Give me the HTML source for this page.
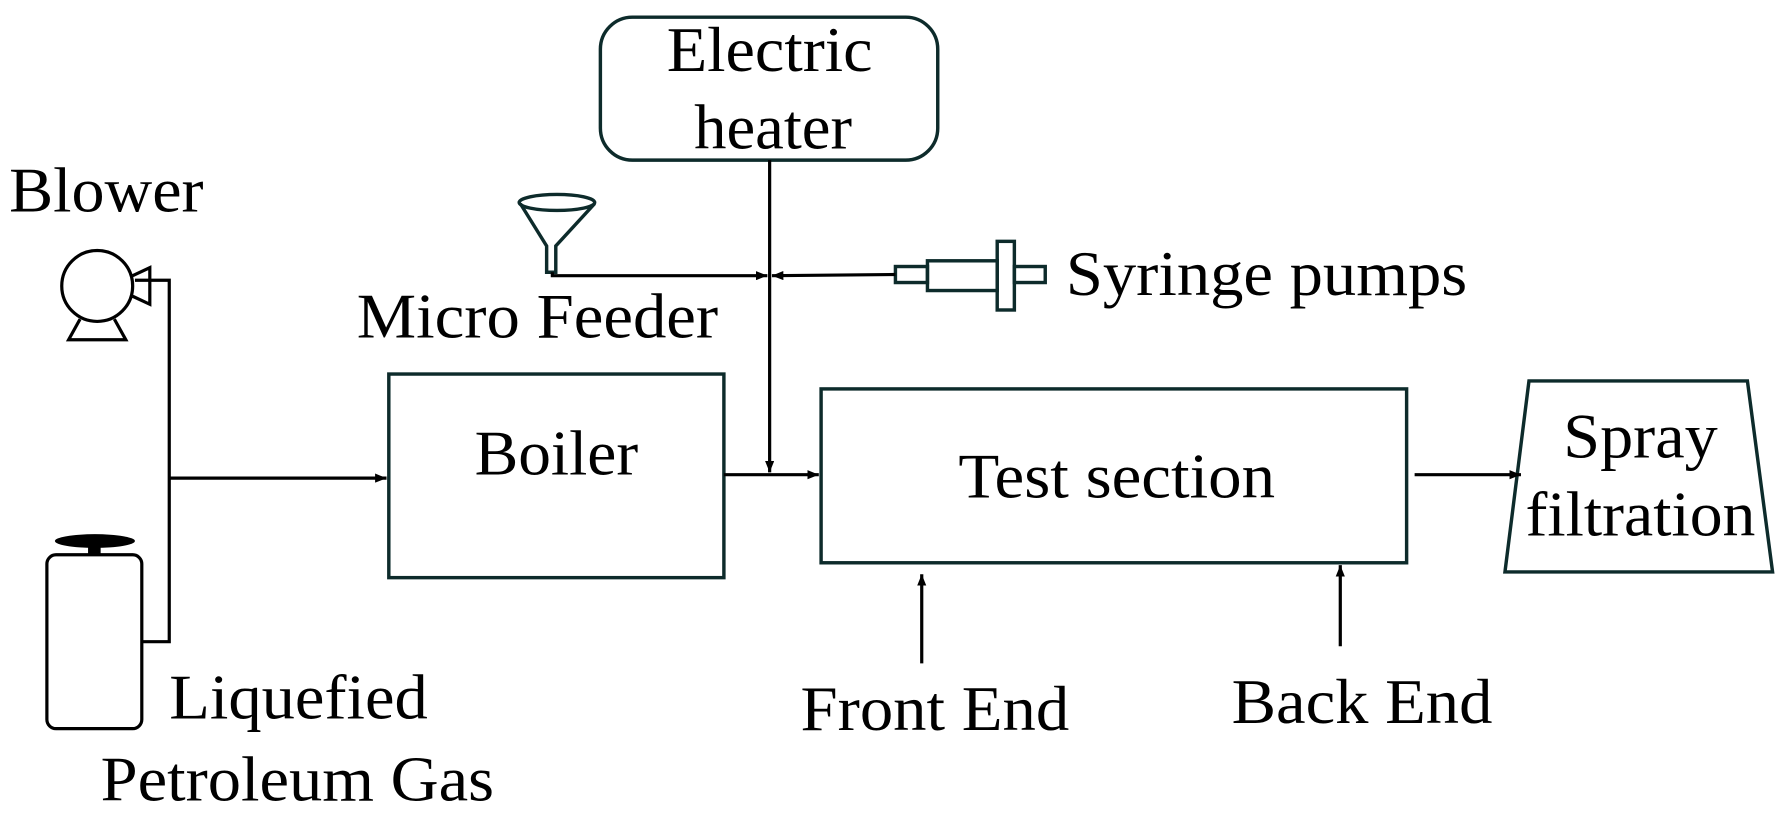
<!DOCTYPE html>
<html><head><style>html,body{margin:0;padding:0;background:#fff}svg{display:block}</style></head>
<body>
<svg width="1784" height="819" viewBox="0 0 1560 716" preserveAspectRatio="none" xmlns="http://www.w3.org/2000/svg" font-family="Liberation Serif, serif" font-size="56">
<defs><marker id="a" markerWidth="10" markerHeight="8" refX="10" refY="4" orient="auto" markerUnits="userSpaceOnUse"><path d="M0,0 L10,4 L0,8 z" fill="#000"/></marker></defs>
<g fill="none" stroke="#0d2b2b" stroke-width="3">
<rect x="525" y="15" width="295" height="125" rx="28"/>
<rect x="340" y="327" width="293" height="178"/>
<rect x="718" y="340" width="512" height="152"/>
<path d="M1337,333 L1528,333 L1550,500 L1316,500 z"/>
<rect x="783" y="233" width="28" height="14"/>
<rect x="811" y="228" width="61" height="26"/>
<rect x="872" y="211" width="15" height="60"/>
<rect x="887" y="233" width="27" height="14"/>
<ellipse cx="487" cy="177" rx="33" ry="7"/>
<path d="M455,178 L478,215 L478,238 L486,238 L486,215 L520,178"/>
</g>
<g fill="none" stroke="#000" stroke-width="2.8">
<circle cx="85" cy="250" r="31" />
<path d="M70,279 L60,297 L110,297 L100,279"/>
<path d="M116,241 L131,234 L131,266 L116,259"/>
<rect x="41" y="485" width="83" height="152" rx="8"/>
<path d="M124,561 L148,561 L148,245 L118,245"/>
<path d="M148,418 L338,418" marker-end="url(#a)"/>
<path d="M633,415 L716,415" marker-end="url(#a)"/>
<path d="M673,140 L673,413" marker-end="url(#a)"/>
<path d="M483,238 L483,241 L671,241" marker-end="url(#a)"/>
<path d="M783,240 L675,241" marker-end="url(#a)"/>
<path d="M1237,415 L1330,415" marker-end="url(#a)"/>
<path d="M806,580 L806,502" marker-end="url(#a)"/>
<path d="M1172,565 L1172,494" marker-end="url(#a)"/>
</g>
<ellipse cx="83" cy="473" rx="35" ry="6" fill="#000"/>
<rect x="77" y="478" width="11" height="7" fill="#000"/>
<g fill="#000">
<text x="583" y="62" textLength="180" lengthAdjust="spacingAndGlyphs">Electric</text>
<text x="607" y="130" textLength="138" lengthAdjust="spacingAndGlyphs">heater</text>
<text x="8" y="185" textLength="170" lengthAdjust="spacingAndGlyphs">Blower</text>
<text x="312" y="295" textLength="316" lengthAdjust="spacingAndGlyphs">Micro Feeder</text>
<text x="932" y="258" textLength="351" lengthAdjust="spacingAndGlyphs">Syringe pumps</text>
<text x="415" y="415" textLength="143" lengthAdjust="spacingAndGlyphs">Boiler</text>
<text x="838" y="435" textLength="277" lengthAdjust="spacingAndGlyphs">Test section</text>
<text x="1367" y="400" textLength="135" lengthAdjust="spacingAndGlyphs">Spray</text>
<text x="1334" y="468" textLength="201" lengthAdjust="spacingAndGlyphs">filtration</text>
<text x="148" y="628" textLength="226" lengthAdjust="spacingAndGlyphs">Liquefied</text>
<text x="88" y="700" textLength="344" lengthAdjust="spacingAndGlyphs">Petroleum Gas</text>
<text x="700" y="638" textLength="235" lengthAdjust="spacingAndGlyphs">Front End</text>
<text x="1077" y="632" textLength="228" lengthAdjust="spacingAndGlyphs">Back End</text>
</g>
</svg>
</body></html>
